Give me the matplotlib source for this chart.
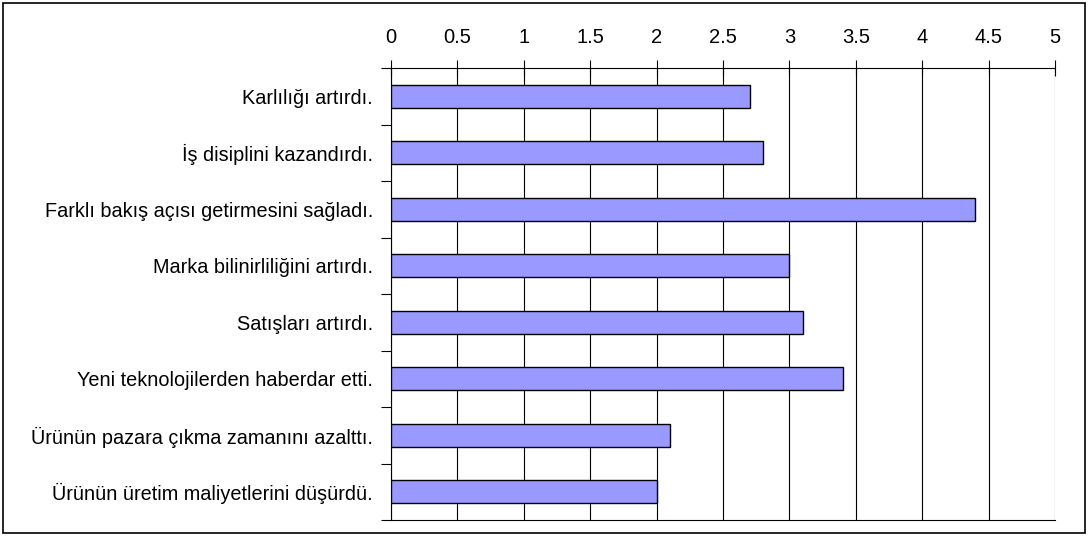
import matplotlib.pyplot as plt
import numpy as np
from matplotlib.patches import Rectangle

plt.rcParams['font.family'] = ['Liberation Sans', 'DejaVu Sans']

labels = [
    'Karlılığı artırdı.',
    'İş disiplini kazandırdı.',
    'Farklı bakış açısı getirmesini sağladı.',
    'Marka bilinirliliğini artırdı.',
    'Satışları artırdı.',
    'Yeni teknolojilerden haberdar etti.',
    'Ürünün pazara çıkma zamanını azalttı.',
    'Ürünün üretim maliyetlerini düşürdü.',
]
scores = [2.7, 2.8, 4.4, 3.0, 3.1, 3.4, 2.1, 2.0]
xticks = [0, 0.5, 1, 1.5, 2, 2.5, 3, 3.5, 4, 4.5, 5]
xtick_labels = ['0', '0.5', '1', '1.5', '2', '2.5', '3', '3.5', '4', '4.5', '5']

fig = plt.figure(figsize=(10.88, 5.36), dpi=100)
ax = fig.add_axes([391 / 1088, 16 / 536, 664 / 1088, 452 / 536])

pos = np.arange(len(labels))
ax.barh(pos, scores, height=0.41, color='#9999ff', edgecolor='black',
        linewidth=1.0, zorder=3)

ax.set_xlim(0, 5)
ax.set_ylim(len(labels) - 0.5, -0.5)

# value axis on top, gridlines down the plot
ax.xaxis.tick_top()
ax.set_xticks(xticks)
ax.set_xticklabels(xtick_labels, fontsize=14.5)
ax.tick_params(axis='x', direction='inout', length=12, width=0.8, pad=9, colors='black')
ax.grid(axis='x', color='black', linewidth=0.8, zorder=0)

# category ticks sit between the bars
ax.set_yticks(pos)
ax.set_yticklabels(labels, fontsize=14.3)
ax.tick_params(axis='y', which='major', length=0, pad=13)
ax.set_yticks(np.arange(len(labels) + 1) - 0.5, minor=True)
ax.tick_params(axis='y', which='minor', direction='out', length=7, width=0.8)

ax.spines['right'].set_visible(False)
for side in ['top', 'bottom', 'left']:
    ax.spines[side].set_linewidth(0.8)

# outer frame
fig.patches.append(Rectangle((3 / 1088, 3 / 536), 1082 / 1088, 530 / 536,
                             transform=fig.transFigure, fill=False,
                             edgecolor='black', linewidth=1.2))

fig.savefig('out.png', dpi=100)
